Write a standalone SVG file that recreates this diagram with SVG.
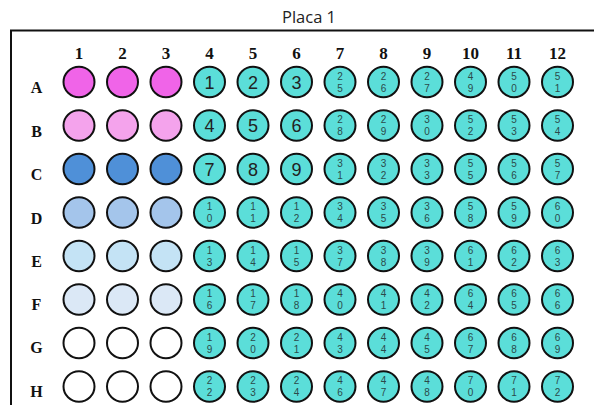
<svg xmlns="http://www.w3.org/2000/svg" width="594" height="405" viewBox="0 0 594 405">
<style>
.w{stroke:#111;stroke-width:2}
.t{fill:#5BDED9}
.c1{fill:#F064E8}.c2{fill:#F4A3EC}.c3{fill:#4F90D8}.c4{fill:#A4C5EB}.c5{fill:#C4E3F5}.c6{fill:#DBE8F6}.c7{fill:#FFFFFF}
.big{font-family:"Liberation Sans",Arial,sans-serif;font-size:18px;fill:#222;text-anchor:middle}
.s{font-family:"Liberation Sans",Arial,sans-serif;font-size:10px;fill:#2B4A4A;text-anchor:middle}
.hd{font-family:"Liberation Serif","Times New Roman",serif;font-size:17px;font-weight:bold;fill:#111;text-anchor:middle}
.rl{font-family:"Liberation Serif","Times New Roman",serif;font-size:16px;font-weight:bold;fill:#111;text-anchor:middle}
.ttl{font-family:"Open Sans","Liberation Sans",sans-serif;font-size:16.5px;fill:#222;text-anchor:middle}
</style>
<rect width="594" height="405" fill="#fff"/>
<text class="ttl" x="309" y="23">Placa 1</text>
<path d="M11 405 V30.5 H594" fill="none" stroke="#111" stroke-width="2"/>
<g id="col-headers">
<text class="hd" x="79" y="59">1</text><text class="hd" x="122.5" y="59">2</text><text class="hd" x="166" y="59">3</text><text class="hd" x="209.5" y="59">4</text><text class="hd" x="253" y="59">5</text><text class="hd" x="296.5" y="59">6</text><text class="hd" x="340" y="59">7</text><text class="hd" x="383.5" y="59">8</text><text class="hd" x="427" y="59">9</text><text class="hd" x="470.5" y="59">10</text><text class="hd" x="514" y="59">11</text><text class="hd" x="557.5" y="59">12</text>
</g>
<g id="row-headers">
<text class="rl" x="36.5" y="93">A</text><text class="rl" x="36.5" y="137">B</text><text class="rl" x="36.5" y="180">C</text><text class="rl" x="36.5" y="223.5">D</text><text class="rl" x="36.5" y="267">E</text><text class="rl" x="36.5" y="310">F</text><text class="rl" x="36.5" y="353">G</text><text class="rl" x="36.5" y="397">H</text>
</g>
<g id="connectors"/>
<!-- Row A -->
<g id="A1" transform="translate(79,82)"><ellipse class="w c1" rx="15.5" ry="15.2"/></g>
<g id="A2" transform="translate(122.5,82)"><ellipse class="w c1" rx="15.5" ry="15.2"/></g>
<g id="A3" transform="translate(166,82)"><ellipse class="w c1" rx="15.5" ry="15.2"/></g>
<g id="A4" transform="translate(209.5,82)"><ellipse class="w t" rx="15.5" ry="15.2"/><text class="big" y="6.5">1</text></g>
<g id="A5" transform="translate(253,82)"><ellipse class="w t" rx="15.5" ry="15.2"/><text class="big" y="6.5">2</text></g>
<g id="A6" transform="translate(296.5,82)"><ellipse class="w t" rx="15.5" ry="15.2"/><text class="big" y="6.5">3</text></g>
<g id="A7" transform="translate(340,82)"><ellipse class="w t" rx="15.5" ry="15.2"/><text class="s" y="-2.4">2</text><text class="s" y="9.6">5</text></g>
<g id="A8" transform="translate(383.5,82)"><ellipse class="w t" rx="15.5" ry="15.2"/><text class="s" y="-2.4">2</text><text class="s" y="9.6">6</text></g>
<g id="A9" transform="translate(427,82)"><ellipse class="w t" rx="15.5" ry="15.2"/><text class="s" y="-2.4">2</text><text class="s" y="9.6">7</text></g>
<g id="A10" transform="translate(470.5,82)"><ellipse class="w t" rx="15.5" ry="15.2"/><text class="s" y="-2.4">4</text><text class="s" y="9.6">9</text></g>
<g id="A11" transform="translate(514,82)"><ellipse class="w t" rx="15.5" ry="15.2"/><text class="s" y="-2.4">5</text><text class="s" y="9.6">0</text></g>
<g id="A12" transform="translate(557.5,82)"><ellipse class="w t" rx="15.5" ry="15.2"/><text class="s" y="-2.4">5</text><text class="s" y="9.6">1</text></g>
<!-- Row B -->
<g id="B1" transform="translate(79,125.5)"><ellipse class="w c2" rx="15.5" ry="15.2"/></g>
<g id="B2" transform="translate(122.5,125.5)"><ellipse class="w c2" rx="15.5" ry="15.2"/></g>
<g id="B3" transform="translate(166,125.5)"><ellipse class="w c2" rx="15.5" ry="15.2"/></g>
<g id="B4" transform="translate(209.5,125.5)"><ellipse class="w t" rx="15.5" ry="15.2"/><text class="big" y="6.5">4</text></g>
<g id="B5" transform="translate(253,125.5)"><ellipse class="w t" rx="15.5" ry="15.2"/><text class="big" y="6.5">5</text></g>
<g id="B6" transform="translate(296.5,125.5)"><ellipse class="w t" rx="15.5" ry="15.2"/><text class="big" y="6.5">6</text></g>
<g id="B7" transform="translate(340,125.5)"><ellipse class="w t" rx="15.5" ry="15.2"/><text class="s" y="-2.4">2</text><text class="s" y="9.6">8</text></g>
<g id="B8" transform="translate(383.5,125.5)"><ellipse class="w t" rx="15.5" ry="15.2"/><text class="s" y="-2.4">2</text><text class="s" y="9.6">9</text></g>
<g id="B9" transform="translate(427,125.5)"><ellipse class="w t" rx="15.5" ry="15.2"/><text class="s" y="-2.4">3</text><text class="s" y="9.6">0</text></g>
<g id="B10" transform="translate(470.5,125.5)"><ellipse class="w t" rx="15.5" ry="15.2"/><text class="s" y="-2.4">5</text><text class="s" y="9.6">2</text></g>
<g id="B11" transform="translate(514,125.5)"><ellipse class="w t" rx="15.5" ry="15.2"/><text class="s" y="-2.4">5</text><text class="s" y="9.6">3</text></g>
<g id="B12" transform="translate(557.5,125.5)"><ellipse class="w t" rx="15.5" ry="15.2"/><text class="s" y="-2.4">5</text><text class="s" y="9.6">4</text></g>
<!-- Row C -->
<g id="C1" transform="translate(79,169)"><ellipse class="w c3" rx="15.5" ry="15.2"/></g>
<g id="C2" transform="translate(122.5,169)"><ellipse class="w c3" rx="15.5" ry="15.2"/></g>
<g id="C3" transform="translate(166,169)"><ellipse class="w c3" rx="15.5" ry="15.2"/></g>
<g id="C4" transform="translate(209.5,169)"><ellipse class="w t" rx="15.5" ry="15.2"/><text class="big" y="6.5">7</text></g>
<g id="C5" transform="translate(253,169)"><ellipse class="w t" rx="15.5" ry="15.2"/><text class="big" y="6.5">8</text></g>
<g id="C6" transform="translate(296.5,169)"><ellipse class="w t" rx="15.5" ry="15.2"/><text class="big" y="6.5">9</text></g>
<g id="C7" transform="translate(340,169)"><ellipse class="w t" rx="15.5" ry="15.2"/><text class="s" y="-2.4">3</text><text class="s" y="9.6">1</text></g>
<g id="C8" transform="translate(383.5,169)"><ellipse class="w t" rx="15.5" ry="15.2"/><text class="s" y="-2.4">3</text><text class="s" y="9.6">2</text></g>
<g id="C9" transform="translate(427,169)"><ellipse class="w t" rx="15.5" ry="15.2"/><text class="s" y="-2.4">3</text><text class="s" y="9.6">3</text></g>
<g id="C10" transform="translate(470.5,169)"><ellipse class="w t" rx="15.5" ry="15.2"/><text class="s" y="-2.4">5</text><text class="s" y="9.6">5</text></g>
<g id="C11" transform="translate(514,169)"><ellipse class="w t" rx="15.5" ry="15.2"/><text class="s" y="-2.4">5</text><text class="s" y="9.6">6</text></g>
<g id="C12" transform="translate(557.5,169)"><ellipse class="w t" rx="15.5" ry="15.2"/><text class="s" y="-2.4">5</text><text class="s" y="9.6">7</text></g>
<!-- Row D -->
<g id="D1" transform="translate(79,212.5)"><ellipse class="w c4" rx="15.5" ry="15.2"/></g>
<g id="D2" transform="translate(122.5,212.5)"><ellipse class="w c4" rx="15.5" ry="15.2"/></g>
<g id="D3" transform="translate(166,212.5)"><ellipse class="w c4" rx="15.5" ry="15.2"/></g>
<g id="D4" transform="translate(209.5,212.5)"><ellipse class="w t" rx="15.5" ry="15.2"/><text class="s" y="-2.4">1</text><text class="s" y="9.6">0</text></g>
<g id="D5" transform="translate(253,212.5)"><ellipse class="w t" rx="15.5" ry="15.2"/><text class="s" y="-2.4">1</text><text class="s" y="9.6">1</text></g>
<g id="D6" transform="translate(296.5,212.5)"><ellipse class="w t" rx="15.5" ry="15.2"/><text class="s" y="-2.4">1</text><text class="s" y="9.6">2</text></g>
<g id="D7" transform="translate(340,212.5)"><ellipse class="w t" rx="15.5" ry="15.2"/><text class="s" y="-2.4">3</text><text class="s" y="9.6">4</text></g>
<g id="D8" transform="translate(383.5,212.5)"><ellipse class="w t" rx="15.5" ry="15.2"/><text class="s" y="-2.4">3</text><text class="s" y="9.6">5</text></g>
<g id="D9" transform="translate(427,212.5)"><ellipse class="w t" rx="15.5" ry="15.2"/><text class="s" y="-2.4">3</text><text class="s" y="9.6">6</text></g>
<g id="D10" transform="translate(470.5,212.5)"><ellipse class="w t" rx="15.5" ry="15.2"/><text class="s" y="-2.4">5</text><text class="s" y="9.6">8</text></g>
<g id="D11" transform="translate(514,212.5)"><ellipse class="w t" rx="15.5" ry="15.2"/><text class="s" y="-2.4">5</text><text class="s" y="9.6">9</text></g>
<g id="D12" transform="translate(557.5,212.5)"><ellipse class="w t" rx="15.5" ry="15.2"/><text class="s" y="-2.4">6</text><text class="s" y="9.6">0</text></g>
<!-- Row E -->
<g id="E1" transform="translate(79,256)"><ellipse class="w c5" rx="15.5" ry="15.2"/></g>
<g id="E2" transform="translate(122.5,256)"><ellipse class="w c5" rx="15.5" ry="15.2"/></g>
<g id="E3" transform="translate(166,256)"><ellipse class="w c5" rx="15.5" ry="15.2"/></g>
<g id="E4" transform="translate(209.5,256)"><ellipse class="w t" rx="15.5" ry="15.2"/><text class="s" y="-2.4">1</text><text class="s" y="9.6">3</text></g>
<g id="E5" transform="translate(253,256)"><ellipse class="w t" rx="15.5" ry="15.2"/><text class="s" y="-2.4">1</text><text class="s" y="9.6">4</text></g>
<g id="E6" transform="translate(296.5,256)"><ellipse class="w t" rx="15.5" ry="15.2"/><text class="s" y="-2.4">1</text><text class="s" y="9.6">5</text></g>
<g id="E7" transform="translate(340,256)"><ellipse class="w t" rx="15.5" ry="15.2"/><text class="s" y="-2.4">3</text><text class="s" y="9.6">7</text></g>
<g id="E8" transform="translate(383.5,256)"><ellipse class="w t" rx="15.5" ry="15.2"/><text class="s" y="-2.4">3</text><text class="s" y="9.6">8</text></g>
<g id="E9" transform="translate(427,256)"><ellipse class="w t" rx="15.5" ry="15.2"/><text class="s" y="-2.4">3</text><text class="s" y="9.6">9</text></g>
<g id="E10" transform="translate(470.5,256)"><ellipse class="w t" rx="15.5" ry="15.2"/><text class="s" y="-2.4">6</text><text class="s" y="9.6">1</text></g>
<g id="E11" transform="translate(514,256)"><ellipse class="w t" rx="15.5" ry="15.2"/><text class="s" y="-2.4">6</text><text class="s" y="9.6">2</text></g>
<g id="E12" transform="translate(557.5,256)"><ellipse class="w t" rx="15.5" ry="15.2"/><text class="s" y="-2.4">6</text><text class="s" y="9.6">3</text></g>
<!-- Row F -->
<g id="F1" transform="translate(79,299.5)"><ellipse class="w c6" rx="15.5" ry="15.2"/></g>
<g id="F2" transform="translate(122.5,299.5)"><ellipse class="w c6" rx="15.5" ry="15.2"/></g>
<g id="F3" transform="translate(166,299.5)"><ellipse class="w c6" rx="15.5" ry="15.2"/></g>
<g id="F4" transform="translate(209.5,299.5)"><ellipse class="w t" rx="15.5" ry="15.2"/><text class="s" y="-2.4">1</text><text class="s" y="9.6">6</text></g>
<g id="F5" transform="translate(253,299.5)"><ellipse class="w t" rx="15.5" ry="15.2"/><text class="s" y="-2.4">1</text><text class="s" y="9.6">7</text></g>
<g id="F6" transform="translate(296.5,299.5)"><ellipse class="w t" rx="15.5" ry="15.2"/><text class="s" y="-2.4">1</text><text class="s" y="9.6">8</text></g>
<g id="F7" transform="translate(340,299.5)"><ellipse class="w t" rx="15.5" ry="15.2"/><text class="s" y="-2.4">4</text><text class="s" y="9.6">0</text></g>
<g id="F8" transform="translate(383.5,299.5)"><ellipse class="w t" rx="15.5" ry="15.2"/><text class="s" y="-2.4">4</text><text class="s" y="9.6">1</text></g>
<g id="F9" transform="translate(427,299.5)"><ellipse class="w t" rx="15.5" ry="15.2"/><text class="s" y="-2.4">4</text><text class="s" y="9.6">2</text></g>
<g id="F10" transform="translate(470.5,299.5)"><ellipse class="w t" rx="15.5" ry="15.2"/><text class="s" y="-2.4">6</text><text class="s" y="9.6">4</text></g>
<g id="F11" transform="translate(514,299.5)"><ellipse class="w t" rx="15.5" ry="15.2"/><text class="s" y="-2.4">6</text><text class="s" y="9.6">5</text></g>
<g id="F12" transform="translate(557.5,299.5)"><ellipse class="w t" rx="15.5" ry="15.2"/><text class="s" y="-2.4">6</text><text class="s" y="9.6">6</text></g>
<!-- Row G -->
<g id="G1" transform="translate(79,343)"><ellipse class="w c7" rx="15.5" ry="15.2"/></g>
<g id="G2" transform="translate(122.5,343)"><ellipse class="w c7" rx="15.5" ry="15.2"/></g>
<g id="G3" transform="translate(166,343)"><ellipse class="w c7" rx="15.5" ry="15.2"/></g>
<g id="G4" transform="translate(209.5,343)"><ellipse class="w t" rx="15.5" ry="15.2"/><text class="s" y="-2.4">1</text><text class="s" y="9.6">9</text></g>
<g id="G5" transform="translate(253,343)"><ellipse class="w t" rx="15.5" ry="15.2"/><text class="s" y="-2.4">2</text><text class="s" y="9.6">0</text></g>
<g id="G6" transform="translate(296.5,343)"><ellipse class="w t" rx="15.5" ry="15.2"/><text class="s" y="-2.4">2</text><text class="s" y="9.6">1</text></g>
<g id="G7" transform="translate(340,343)"><ellipse class="w t" rx="15.5" ry="15.2"/><text class="s" y="-2.4">4</text><text class="s" y="9.6">3</text></g>
<g id="G8" transform="translate(383.5,343)"><ellipse class="w t" rx="15.5" ry="15.2"/><text class="s" y="-2.4">4</text><text class="s" y="9.6">4</text></g>
<g id="G9" transform="translate(427,343)"><ellipse class="w t" rx="15.5" ry="15.2"/><text class="s" y="-2.4">4</text><text class="s" y="9.6">5</text></g>
<g id="G10" transform="translate(470.5,343)"><ellipse class="w t" rx="15.5" ry="15.2"/><text class="s" y="-2.4">6</text><text class="s" y="9.6">7</text></g>
<g id="G11" transform="translate(514,343)"><ellipse class="w t" rx="15.5" ry="15.2"/><text class="s" y="-2.4">6</text><text class="s" y="9.6">8</text></g>
<g id="G12" transform="translate(557.5,343)"><ellipse class="w t" rx="15.5" ry="15.2"/><text class="s" y="-2.4">6</text><text class="s" y="9.6">9</text></g>
<!-- Row H -->
<g id="H1" transform="translate(79,386.5)"><ellipse class="w c7" rx="15.5" ry="15.2"/></g>
<g id="H2" transform="translate(122.5,386.5)"><ellipse class="w c7" rx="15.5" ry="15.2"/></g>
<g id="H3" transform="translate(166,386.5)"><ellipse class="w c7" rx="15.5" ry="15.2"/></g>
<g id="H4" transform="translate(209.5,386.5)"><ellipse class="w t" rx="15.5" ry="15.2"/><text class="s" y="-2.4">2</text><text class="s" y="9.6">2</text></g>
<g id="H5" transform="translate(253,386.5)"><ellipse class="w t" rx="15.5" ry="15.2"/><text class="s" y="-2.4">2</text><text class="s" y="9.6">3</text></g>
<g id="H6" transform="translate(296.5,386.5)"><ellipse class="w t" rx="15.5" ry="15.2"/><text class="s" y="-2.4">2</text><text class="s" y="9.6">4</text></g>
<g id="H7" transform="translate(340,386.5)"><ellipse class="w t" rx="15.5" ry="15.2"/><text class="s" y="-2.4">4</text><text class="s" y="9.6">6</text></g>
<g id="H8" transform="translate(383.5,386.5)"><ellipse class="w t" rx="15.5" ry="15.2"/><text class="s" y="-2.4">4</text><text class="s" y="9.6">7</text></g>
<g id="H9" transform="translate(427,386.5)"><ellipse class="w t" rx="15.5" ry="15.2"/><text class="s" y="-2.4">4</text><text class="s" y="9.6">8</text></g>
<g id="H10" transform="translate(470.5,386.5)"><ellipse class="w t" rx="15.5" ry="15.2"/><text class="s" y="-2.4">7</text><text class="s" y="9.6">0</text></g>
<g id="H11" transform="translate(514,386.5)"><ellipse class="w t" rx="15.5" ry="15.2"/><text class="s" y="-2.4">7</text><text class="s" y="9.6">1</text></g>
<g id="H12" transform="translate(557.5,386.5)"><ellipse class="w t" rx="15.5" ry="15.2"/><text class="s" y="-2.4">7</text><text class="s" y="9.6">2</text></g>
</svg>
